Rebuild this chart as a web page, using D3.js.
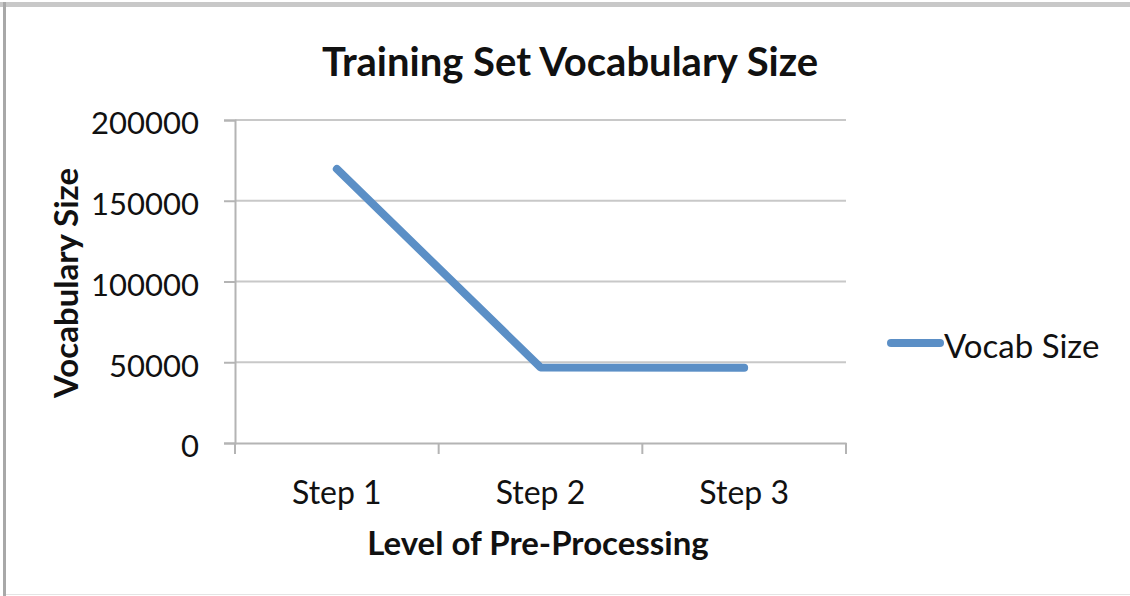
<!DOCTYPE html>
<html><head><meta charset="utf-8">
<script src="https://cdn.jsdelivr.net/npm/d3@7"></script>
<style>
html,body{margin:0;padding:0;background:#fff;}
svg{display:block;}
text{font-family:Lato,"Open Sans",sans-serif;fill:#111;}
</style></head>
<body>
<svg id="c" width="1130" height="596"></svg>
<script>
const categories = ["Step 1", "Step 2", "Step 3"];
const vocabSize = [169700, 46800, 46600];
const yTicks = [0, 50000, 100000, 150000, 200000];
const seriesName = "Vocab Size";
const title = "Training Set Vocabulary Size";
const xTitle = "Level of Pre-Processing";
const yTitle = "Vocabulary Size";

const svg = d3.select("#c");
// frame edges
svg.append("rect").attr("x",0).attr("y",2).attr("width",1130).attr("height",5).attr("fill","#c8c8c8");
svg.append("rect").attr("x",3).attr("y",2).attr("width",3).attr("height",594).attr("fill","#a8a8a8");
svg.append("rect").attr("x",6).attr("y",594).attr("width",1124).attr("height",1).attr("fill","#e4e4e4");

const L = 235, R = 846, T = 120, B = 443;
const x = d3.scaleBand().domain(categories).range([L, R]);
const y = d3.scaleLinear().domain([0, 200000]).range([B, T]);

// gridlines
svg.append("g").selectAll("line").data(yTicks.filter(d => d > 0)).join("line")
  .attr("x1", L).attr("x2", R).attr("y1", d => y(d)).attr("y2", d => y(d))
  .attr("stroke", "#c8c8c8").attr("stroke-width", 2);

// y axis
const yAxis = svg.append("g").attr("transform", `translate(${L},0)`)
  .call(d3.axisLeft(y).tickValues(yTicks).tickSize(11).tickPadding(25).tickFormat(d3.format("d")));
yAxis.select(".domain").attr("stroke", "#b4b4b4").attr("stroke-width", 2);
yAxis.selectAll(".tick line").attr("stroke", "#b4b4b4").attr("stroke-width", 2);
yAxis.selectAll(".tick text").style("font-size", "31px").style("font-family", "Lato")
  .attr("fill", "#111").attr("dy", "0.45em");

// x axis
const xAxis = svg.append("g").attr("transform", `translate(0,${B})`)
  .call(d3.axisBottom(x).tickSize(0).tickPadding(38));
xAxis.select(".domain").attr("stroke", "#b4b4b4").attr("stroke-width", 2);
xAxis.selectAll(".tick text").style("font-size", "32px").style("font-family", "Lato").attr("fill", "#111");
// category boundary ticks
const bounds = categories.map(c => x(c)).concat([R]);
svg.append("g").selectAll("line").data(bounds).join("line")
  .attr("x1", d => d).attr("x2", d => d).attr("y1", B).attr("y2", B + 11)
  .attr("stroke", "#b4b4b4").attr("stroke-width", 2);

// line
const line = d3.line().x((d, i) => x(categories[i]) + x.bandwidth() / 2).y(d => y(d));
svg.append("path").datum(vocabSize).attr("d", line)
  .attr("fill", "none").attr("stroke", "#5b8fc6").attr("stroke-width", 8)
  .attr("stroke-linecap", "round").attr("stroke-linejoin", "round");

// title
svg.append("text").attr("x", 570).attr("y", 76).attr("text-anchor", "middle")
  .style("font-size", "40px").style("font-weight", "bold").text(title);
// axis titles
svg.append("text").attr("x", 538).attr("y", 555).attr("text-anchor", "middle")
  .style("font-size", "33px").style("font-weight", "bold").text(xTitle);
svg.append("text").attr("transform", "translate(78,283) rotate(-90)").attr("text-anchor", "middle")
  .style("font-size", "33px").style("font-weight", "bold").text(yTitle);

// legend
svg.append("line").attr("x1", 891).attr("x2", 940).attr("y1", 343).attr("y2", 343)
  .attr("stroke", "#5b8fc6").attr("stroke-width", 8).attr("stroke-linecap", "round");
svg.append("text").attr("x", 944).attr("y", 358).style("font-size", "33px").text(seriesName);
</script>
</body></html>
